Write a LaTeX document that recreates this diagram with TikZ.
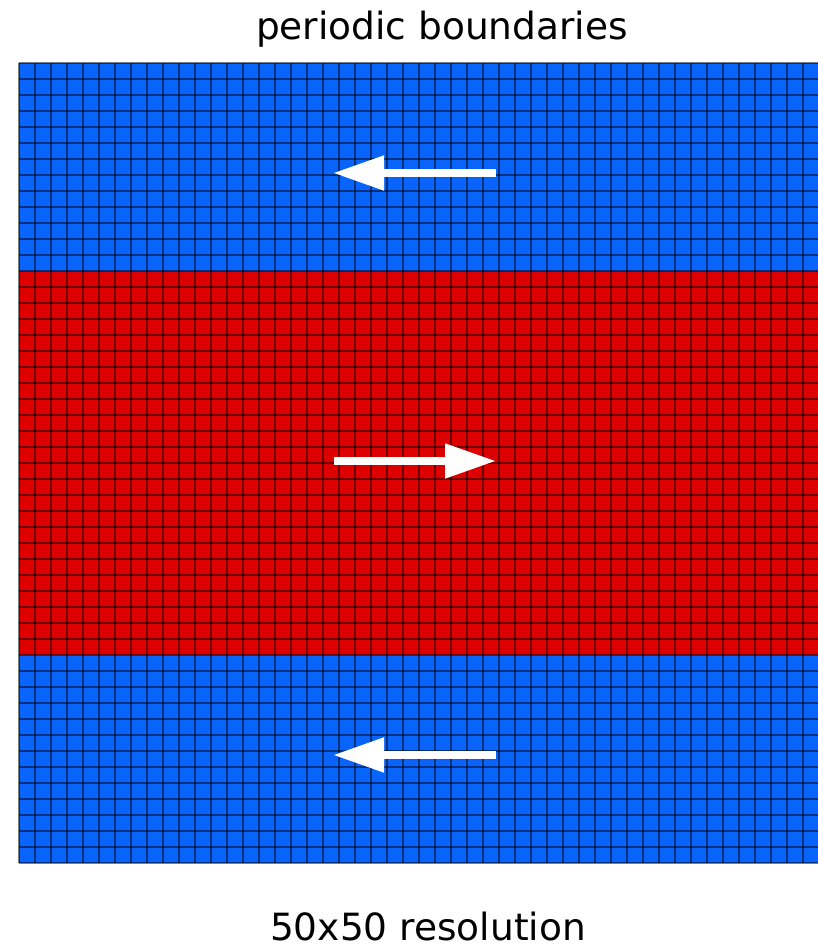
\documentclass[tikz,border=0pt]{standalone}
\usepackage{fontspec}
\setmainfont{DejaVu Sans}
\usetikzlibrary{arrows.meta}
\definecolor{cblue}{RGB}{8,100,250}
\definecolor{cred}{RGB}{220,0,0}
\begin{document}
\begin{tikzpicture}[x=1pt,y=-1pt,
  gridline/.style={black,opacity=0.5,line width=1.8pt},
  flowarrow/.style={white,line width=8pt,line cap=butt,-{Triangle[length=51pt,width=33pt]}},
  label/.style={font=\fontsize{37.5pt}{41pt}\selectfont,anchor=base,inner sep=0pt}]
\useasboundingbox (0,0) rectangle (818,949);
\fill[cblue] (19,63) rectangle (819,271);
\fill[cred] (19,271) rectangle (819,655);
\fill[cblue] (19,655) rectangle (819,863);
\foreach \k in {0,...,50}{
  \draw[gridline] ({19+16*\k},63) -- ({19+16*\k},863);
  \draw[gridline] (19,{63+16*\k}) -- (819,{63+16*\k});
}
\coordinate (t1) at (496,173);
\coordinate (t2) at (333,173);
\coordinate (m1) at (334,461);
\coordinate (m2) at (496,461);
\coordinate (b1) at (496,755);
\coordinate (b2) at (333,755);
\draw[flowarrow] (t1) -- (t2);
\draw[flowarrow] (m1) -- (m2);
\draw[flowarrow] (b1) -- (b2);
\node[label] (title) at (442,40) {periodic boundaries};
\node[label] (res) at (428,940) {50x50 resolution};
\end{tikzpicture}
\end{document}
